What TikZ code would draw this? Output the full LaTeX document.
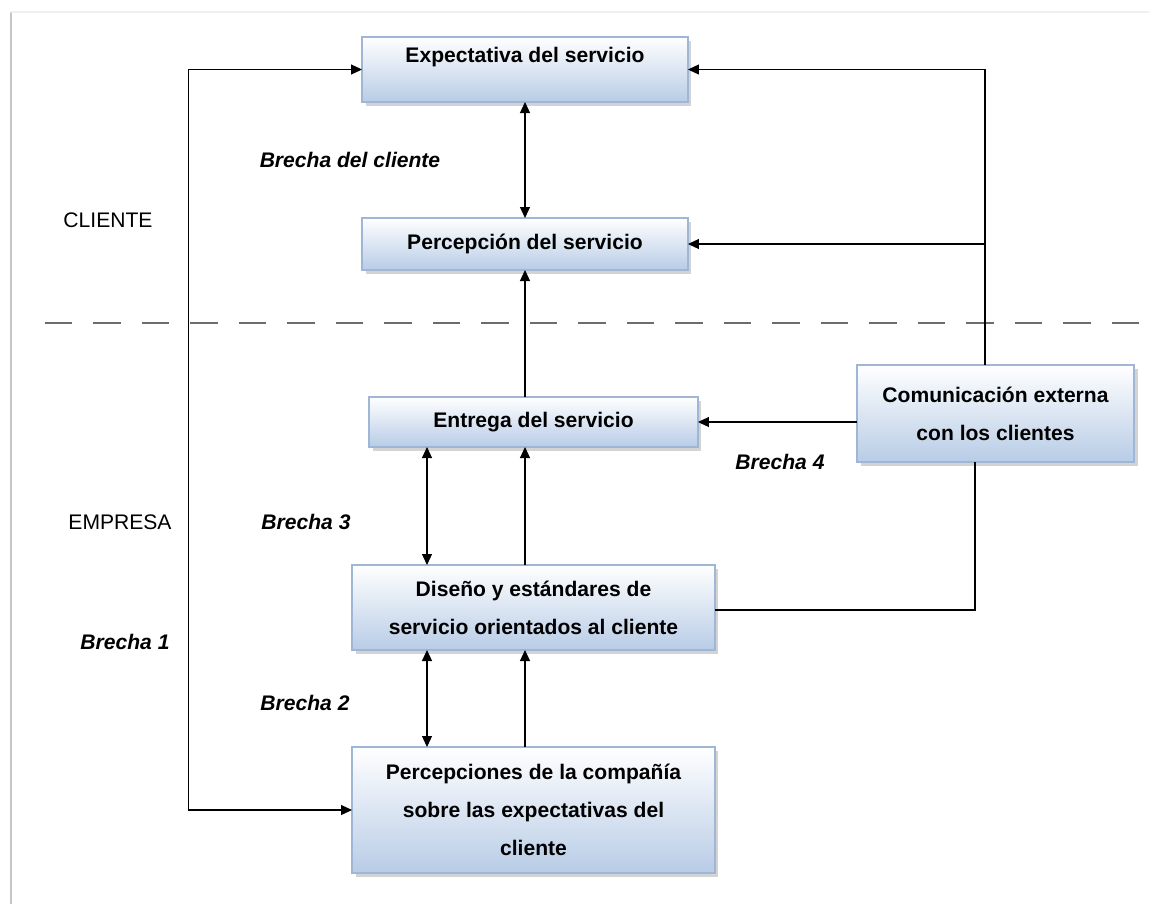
\documentclass[tikz,border=0pt]{standalone}
\usepackage{fontspec}
\setmainfont{Liberation Sans}
\usetikzlibrary{shapes}
\usetikzlibrary{positioning}
\usetikzlibrary{arrows.meta}
\usetikzlibrary{shadows}

\definecolor{boxline}{RGB}{160,182,214}
\definecolor{boxfill}{RGB}{184,204,230}

\tikzset{
    box/.style={draw=boxline, line width=0.8pt, top color=white, bottom color=boxfill,
        align=center, inner sep=0pt, outer sep=0pt,
        font=\fontsize{12}{21.5}\selectfont\bfseries,
        drop shadow={shadow xshift=2pt, shadow yshift=-2pt, opacity=0.35}},
    brecha/.style={font=\fontsize{12}{14}\selectfont\bfseries\itshape},
    side/.style={font=\fontsize{12}{14}\selectfont},
    link/.style={line width=0.6pt, -{Triangle[length=2.2mm,width=2mm]}},
    dlink/.style={line width=0.6pt, {Triangle[length=2.2mm,width=2mm]}-{Triangle[length=2.2mm,width=2mm]}}
}

\begin{document}
\begin{tikzpicture}[x=0.02cm,y=-0.02cm]
        \useasboundingbox (0,0) rectangle (1149,904);
        %Frame
            \draw[gray!45, line width=1.2pt] (11,904) -- (11,12);
            \draw[gray!12, line width=0.8pt] (11,12) -- (1149,12);
        %Boxes
            \node[box, minimum width=6.52cm, minimum height=1.3cm, text depth=0.6cm] (expect) at (525,69.5) {Expectativa del servicio};
            \node[box, minimum width=6.52cm, minimum height=1.04cm] (percep) at (525,244) {Percepción del servicio};
            \node[box, minimum width=6.58cm, minimum height=1.0cm] (entrega) at (533.5,422) {Entrega del servicio};
            \node[box, minimum width=5.54cm, minimum height=1.94cm] (comext) at (995.5,413.5) {Comunicación externa\\con los clientes};
            \node[box, minimum width=7.26cm, minimum height=1.7cm] (diseno) at (533.5,607.5) {Diseño y estándares de\\servicio orientados al cliente};
            \node[box, minimum width=7.26cm, minimum height=2.52cm] (percomp) at (533.5,810) {Percepciones de la compañía\\sobre las expectativas del\\cliente};
        %Columns
            \coordinate (lcol) at (427,0);
            \coordinate (rcol) at (525,0);
            \coordinate (rtop) at ([xshift=-0.21cm]comext.north);
            \coordinate (rbot) at ([xshift=-0.41cm]comext.south);
        %Divider
            \draw[gray!85!black, line width=1pt, dash pattern=on 0.55cm off 0.42cm] (45,323) -- (1140,323);
        %Arrows
            \draw[dlink] (expect.west) -- ++(-174,0) |- (percomp.west);
            \draw[dlink] (expect.south) -- (percep.north);
            \draw[link] (rtop) |- (expect.east);
            \draw[link] (rtop |- percep.east) -- (percep.east);
            \draw[link] (comext.west |- entrega.east) -- (entrega.east);
            \draw[line width=0.6pt] (rbot) |- ([yshift=-0.05cm]diseno.east);
            \draw[link] (entrega.north -| rcol) -- (percep.south -| rcol);
            \draw[dlink] (entrega.south -| lcol) -- (diseno.north -| lcol);
            \draw[link] (diseno.north -| rcol) -- (entrega.south -| rcol);
            \draw[dlink] (diseno.south -| lcol) -- (percomp.north -| lcol);
            \draw[link] (percomp.north -| rcol) -- (diseno.south -| rcol);
        %Labels
            \node[brecha] (bcli) at (350,160) {Brecha del cliente};
            \node[side] (cliente) at (108,220) {CLIENTE};
            \node[side] (empresa) at (120,522) {EMPRESA};
            \node[brecha] (b3) at (306,522) {Brecha 3};
            \node[brecha] (b4) at (780,462) {Brecha 4};
            \node[brecha] (b1) at (125,642) {Brecha 1};
            \node[brecha] (b2) at (305,703) {Brecha 2};
    \end{tikzpicture}
\end{document}
